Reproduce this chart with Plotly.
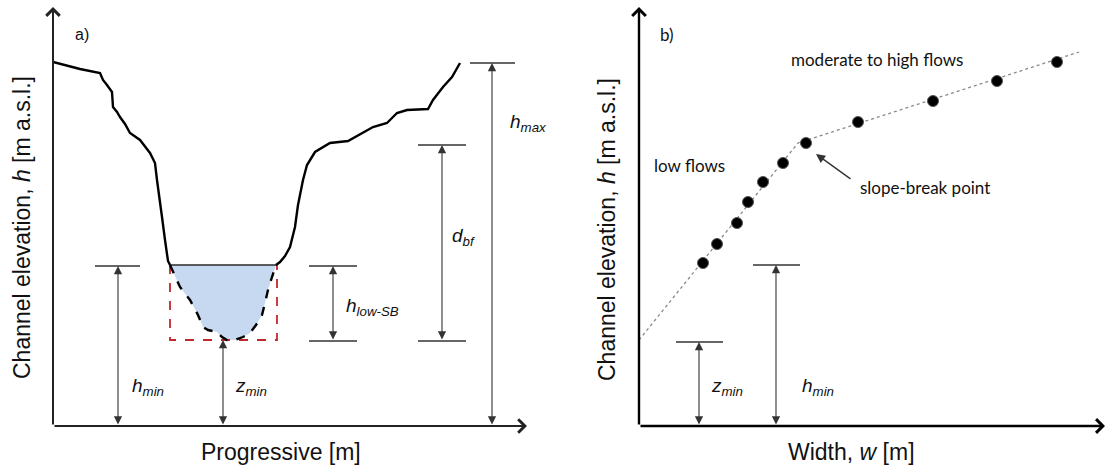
import plotly.graph_objects as go

# ---------------- Panel a: channel cross-section (schematic units) ----------------
left_bank_x = [0, 27, 47, 50, 54, 59, 60, 64, 67, 72, 77, 87, 97, 102, 104, 107, 109, 112, 115, 117]
left_bank_y = [364, 357, 353, 346, 341, 334, 319, 314, 309, 302, 293, 286, 273, 263, 246, 226, 209, 186, 165, 161]

channel_x = [117, 127, 137, 145, 150, 155, 164, 169, 174, 182, 190, 197, 203, 209, 212, 215, 219, 223]
channel_y = [161, 139, 126, 111, 99, 96, 94, 89, 86, 86, 89, 93, 101, 111, 123, 136, 149, 161]

right_bank_x = [223, 227, 232, 237, 242, 245, 250, 254, 262, 277, 295, 310, 320, 334, 344, 354, 375, 380, 390, 399, 407]
right_bank_y = [161, 164, 170, 179, 199, 221, 246, 261, 274, 283, 285, 293, 299, 303, 313, 316, 317, 326, 339, 349, 363]

water_level = 161
z_min_level = 86
rect_x = [117, 224]

# dimension arrows panel a: x position, bottom, top
dim_a_x = [65, 170, 280, 389, 439]
dim_a_bottom = [0, 0, 85, 85, 0]
dim_a_top = [160, 86, 160, 281, 363]
# tick bars panel a
tick_a_y = [160, 160, 85, 281, 85, 363]
tick_a_x0 = [42, 256, 256, 365, 365, 417]
tick_a_x1 = [87, 304, 304, 413, 413, 462]

# ---------------- Panel b: width vs elevation ----------------
low_w = [64, 78, 98, 109, 124, 144, 167]
low_h = [163, 182, 203, 224, 244, 263, 283]
high_w = [219, 294, 358, 418]
high_h = [304, 325, 345, 364]
fit_w = [0, 159, 440]
fit_h = [86, 283, 374]

dim_b_x = [60, 137]
dim_b_top = [84, 161]
tick_b_x0 = [37, 114]
tick_b_x1 = [84, 161]

A_XMAX, B_XMAX, YMAX = 474, 466, 419

ARIAL = "Liberation Sans, Arial, sans-serif"
CALIBRI = "Lato, Open Sans, sans-serif"
DIM = "#333333"

fig = go.Figure()

# --- panel a traces ---
fig.add_trace(go.Scatter(x=channel_x, y=channel_y, fill="toself", fillcolor="#c6d9f0",
                         mode="lines", line=dict(color="rgba(0,0,0,0)", width=0),
                         xaxis="x", yaxis="y", hoverinfo="skip"))
fig.add_trace(go.Scatter(x=[rect_x[0], rect_x[0], rect_x[1], rect_x[1]],
                         y=[water_level, z_min_level, z_min_level, water_level],
                         mode="lines", line=dict(color="#c4262e", width=1.8, dash="dash"),
                         xaxis="x", yaxis="y"))
fig.add_trace(go.Scatter(x=[rect_x[0], rect_x[1]], y=[water_level, water_level],
                         mode="lines", line=dict(color="#2a2a2a", width=1.6),
                         xaxis="x", yaxis="y"))
fig.add_trace(go.Scatter(x=channel_x, y=channel_y, mode="lines",
                         line=dict(color="black", width=2.4, dash="dash"),
                         xaxis="x", yaxis="y"))
fig.add_trace(go.Scatter(x=left_bank_x, y=left_bank_y, mode="lines",
                         line=dict(color="black", width=2.4), xaxis="x", yaxis="y"))
fig.add_trace(go.Scatter(x=right_bank_x, y=right_bank_y, mode="lines",
                         line=dict(color="black", width=2.4), xaxis="x", yaxis="y"))
for ty, x0, x1 in zip(tick_a_y, tick_a_x0, tick_a_x1):
    fig.add_trace(go.Scatter(x=[x0, x1], y=[ty, ty], mode="lines",
                             line=dict(color=DIM, width=1.3), xaxis="x", yaxis="y"))

# --- panel b traces ---
fig.add_trace(go.Scatter(x=fit_w, y=fit_h, mode="lines",
                         line=dict(color="#8a8a8a", width=1.3, dash="dot"),
                         xaxis="x2", yaxis="y2"))
fig.add_trace(go.Scatter(x=low_w + high_w, y=low_h + high_h, mode="markers",
                         marker=dict(color="black", size=11, line=dict(color="#555", width=1)),
                         xaxis="x2", yaxis="y2"))
for ty, x0, x1 in zip(dim_b_top, tick_b_x0, tick_b_x1):
    fig.add_trace(go.Scatter(x=[x0, x1], y=[ty, ty], mode="lines",
                             line=dict(color=DIM, width=1.3), xaxis="x2", yaxis="y2"))

ann = []

def arrow(xr, yr, x, y, ax, ay, color, width, head, size, both=False):
    d = dict(xref=xr, yref=yr, axref=xr, ayref=yr, x=x, y=y, ax=ax, ay=ay, text="",
             showarrow=True, arrowhead=head, arrowsize=size, arrowwidth=width,
             arrowcolor=color, standoff=0, startstandoff=0)
    if both:
        d.update(arrowside="end+start", startarrowhead=head, startarrowsize=size)
    ann.append(d)

# axes with arrow heads
arrow("x", "y", A_XMAX, 0, 0, 0, "#222", 2, 4, 1.3)
arrow("x", "y", 0, YMAX, 0, 0, "#222", 2, 4, 1.3)
arrow("x2", "y2", B_XMAX, 0, 0, 0, "black", 2.4, 4, 1.1)
arrow("x2", "y2", 0, YMAX, 0, 0, "black", 2.4, 4, 1.1)

# dimension arrows
for dx, b, t in zip(dim_a_x, dim_a_bottom, dim_a_top):
    arrow("x", "y", dx, t, dx, b, DIM, 1.1, 2, 1.5, both=True)
for dx, t in zip(dim_b_x, dim_b_top):
    arrow("x2", "y2", dx, t, dx, 0, DIM, 1.1, 2, 1.5, both=True)

# slope-break pointer
arrow("x2", "y2", 177, 272, 213, 246, "#333", 1.4, 2, 1.3)

def label(xr, yr, x, y, text, size, family=ARIAL, xanchor="center", color="#111"):
    ann.append(dict(xref=xr, yref=yr, x=x, y=y, text=text, showarrow=False,
                    xanchor=xanchor, yanchor="middle",
                    font=dict(family=family, size=size, color=color)))

# panel a labels
label("x", "y", 29, 391, "a)", 16)
label("x", "y", 455, 303, "<i>h</i><sub><i>max</i></sub>", 19, xanchor="left")
label("x", "y", 397, 189, "<i>d</i><sub><i>bf</i></sub>", 19, xanchor="left")
label("x", "y", 291, 119, "<i>h</i><sub><i>low-SB</i></sub>", 19, xanchor="left")
label("x", "y", 95, 39, "<i>h</i><sub><i>min</i></sub>", 19)
label("x", "y", 198, 39, "<i>z</i><sub><i>min</i></sub>", 19)

# panel b labels
label("x2", "y2", 28, 391, "b)", 17, family=CALIBRI)
label("x2", "y2", 50, 260, "low flows", 17, family=CALIBRI)
label("x2", "y2", 238, 366, "moderate to high flows", 17, family=CALIBRI)
label("x2", "y2", 286, 238, "slope-break point", 17, family=CALIBRI)
label("x2", "y2", 88, 39, "<i>z</i><sub><i>min</i></sub>", 19)
label("x2", "y2", 179, 39, "<i>h</i><sub><i>min</i></sub>", 19)

# axis titles
W, H = 1108, 468
def ptitle(px, py, text, angle=0):
    ann.append(dict(xref="paper", yref="paper", x=px / W, y=1 - py / H, text=text,
                    showarrow=False, textangle=angle, xanchor="center", yanchor="middle",
                    font=dict(family=ARIAL, size=23, color="#111")))

ptitle(22, 228, "Channel elevation, <i>h</i> [m a.s.l.]", -90)
ptitle(607, 230, "Channel elevation, <i>h</i> [m a.s.l.]", -90)
ptitle(281, 452, "Progressive [m]")
ptitle(851, 452, "Width, <i>w</i> [m]")

ydom = [(H - 426) / H, (H - 426 + YMAX) / H]
fig.update_layout(
    width=W, height=H, margin=dict(l=0, r=0, t=0, b=0),
    paper_bgcolor="white", plot_bgcolor="white", showlegend=False,
    xaxis=dict(domain=[53 / W, (53 + A_XMAX) / W], range=[0, A_XMAX], visible=False, fixedrange=True),
    yaxis=dict(domain=ydom, range=[0, YMAX], visible=False, fixedrange=True),
    xaxis2=dict(domain=[639 / W, (639 + B_XMAX) / W], range=[0, B_XMAX], visible=False, fixedrange=True),
    yaxis2=dict(domain=ydom, range=[0, YMAX], visible=False, fixedrange=True, anchor="x2"),
    annotations=ann,
)

fig.write_html("out.html")
